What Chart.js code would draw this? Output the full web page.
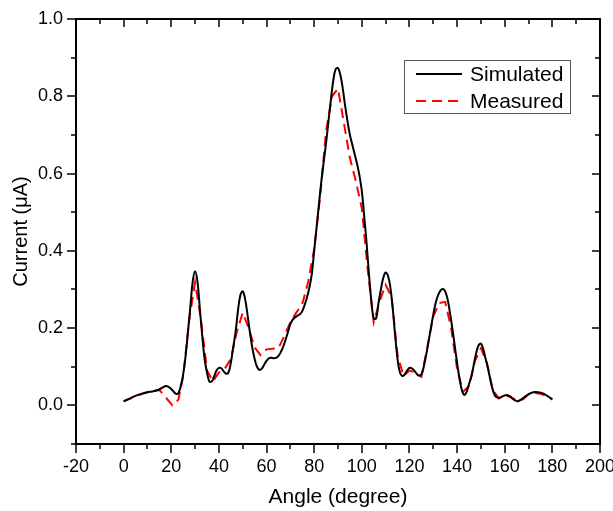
<!DOCTYPE html>
<html>
<head>
<meta charset="utf-8">
<script src="https://cdn.jsdelivr.net/npm/chart.js@4.4.0/dist/chart.umd.min.js"></script>
<style>
  html, body { margin: 0; padding: 0; background: #fff; }
  #wrap { width: 613px; height: 511px; }
</style>
</head>
<body>
<div id="wrap"><canvas id="chart" width="613" height="511"></canvas></div>
<script>
// Simulated curve (black, solid)
const simAngle = [0, 2, 4, 6, 8, 10, 12, 14, 16, 18, 20, 22, 23, 24, 25, 26, 27, 28, 29, 30,
  31, 32, 33, 34, 35, 36, 37, 38, 39, 40, 41, 42, 43, 44, 45, 46, 47, 48, 49, 50,
  51, 52, 53, 54, 55, 56, 57, 58, 59, 60, 61, 62, 63, 64, 65, 66, 67, 68, 69, 70,
  71, 72, 73, 74, 75, 76, 77, 78, 79, 80, 81, 82, 83, 84, 85, 86, 87, 88, 89, 90,
  91, 92, 93, 94, 95, 96, 97, 98, 99, 100, 101, 102, 103, 104, 105, 106, 107, 108, 109, 110,
  111, 112, 113, 114, 115, 116, 117, 118, 119, 120, 121, 122, 123, 124, 125, 126, 127, 128, 129, 130,
  131, 132, 133, 134, 135, 136, 137, 138, 139, 140, 141, 142, 143, 144, 145, 146, 147, 148, 149, 150,
  151, 152, 153, 154, 155, 156, 157, 158, 160, 161, 162, 164, 165, 166, 168, 170, 172, 174, 176, 178, 180];
const simCurrent = [0.011, 0.016, 0.022, 0.027, 0.031, 0.034, 0.036, 0.039, 0.045, 0.050, 0.042, 0.030, 0.032, 0.050, 0.080, 0.127, 0.190, 0.255, 0.320, 0.347,
  0.320, 0.250, 0.180, 0.120, 0.085, 0.062, 0.062, 0.075, 0.090, 0.097, 0.096, 0.088, 0.082, 0.085, 0.110, 0.150, 0.190, 0.245, 0.285, 0.295,
  0.275, 0.235, 0.190, 0.150, 0.120, 0.100, 0.092, 0.095, 0.105, 0.115, 0.122, 0.123, 0.122, 0.123, 0.128, 0.138, 0.152, 0.170, 0.190, 0.210,
  0.222, 0.228, 0.232, 0.236, 0.244, 0.260, 0.280, 0.305, 0.340, 0.400, 0.460, 0.520, 0.580, 0.630, 0.680, 0.735, 0.790, 0.840, 0.870, 0.873,
  0.855, 0.820, 0.775, 0.735, 0.700, 0.675, 0.650, 0.625, 0.595, 0.555, 0.490, 0.420, 0.340, 0.270, 0.225, 0.225, 0.265, 0.300, 0.330, 0.344,
  0.335, 0.305, 0.250, 0.180, 0.120, 0.085, 0.076, 0.080, 0.090, 0.097, 0.096, 0.090, 0.082, 0.077, 0.080, 0.100, 0.130, 0.165, 0.200, 0.235,
  0.265, 0.285, 0.297, 0.301, 0.295, 0.275, 0.240, 0.200, 0.155, 0.110, 0.070, 0.040, 0.027, 0.035, 0.055, 0.075, 0.105, 0.135, 0.155, 0.160,
  0.145, 0.120, 0.095, 0.065, 0.040, 0.024, 0.020, 0.020, 0.026, 0.027, 0.024, 0.014, 0.011, 0.012, 0.020, 0.029, 0.034, 0.034, 0.031, 0.024, 0.016];

// Measured curve (red, dashed)
const measAngle = [0, 5, 10, 15, 20.5, 23, 25, 27.5, 30, 32.5, 35, 37.5, 40, 42.5, 45, 47.5, 50, 52.5, 55, 57.5,
  60, 65, 67.5, 70, 72.5, 75, 77.5, 80, 82.5, 85, 87.5, 90, 92.5, 95, 97.5, 100, 102.5, 105, 107.5, 110,
  112.5, 115, 117.5, 120, 122.5, 125, 127.5, 130, 132.5, 135, 137.5, 140, 142.5, 145, 147.5, 150, 152.5, 155, 157.5, 160,
  162.5, 165, 167.5, 170, 172.5, 175, 177.5, 180];
const measCurrent = [0.010, 0.024, 0.034, 0.040, 0.000, 0.015, 0.075, 0.220, 0.318, 0.220, 0.090, 0.062, 0.085, 0.095, 0.120, 0.190, 0.240, 0.200, 0.150, 0.130,
  0.145, 0.148, 0.180, 0.215, 0.240, 0.262, 0.320, 0.405, 0.540, 0.710, 0.800, 0.820, 0.730, 0.640, 0.580, 0.510, 0.350, 0.215, 0.270, 0.312,
  0.280, 0.130, 0.076, 0.090, 0.085, 0.074, 0.150, 0.230, 0.265, 0.268, 0.200, 0.095, 0.035, 0.050, 0.115, 0.148, 0.110, 0.040, 0.018, 0.025,
  0.022, 0.012, 0.015, 0.028, 0.032, 0.030, 0.025, 0.015];

const xTicks = [-20, 0, 20, 40, 60, 80, 100, 120, 140, 160, 180, 200];
const yTicks = [0.0, 0.2, 0.4, 0.6, 0.8, 1.0];

const FONT = 'Liberation Sans, Arial, sans-serif';

// minor ticks sit halfway between the majors (and below the first y major)
const xMinor = xTicks.slice(1).map((v, i) => (v + xTicks[i]) / 2);
const yMinor = [-0.1].concat(yTicks.slice(1).map((v, i) => (v + yTicks[i]) / 2));

const frame = {
  id: 'frame',
  afterDatasetsDraw(chart) {
    const { ctx, chartArea: a, scales: { x, y } } = chart;
    ctx.save();
    ctx.strokeStyle = '#000';
    const line = (x1, y1, x2, y2) => { ctx.beginPath(); ctx.moveTo(x1, y1); ctx.lineTo(x2, y2); ctx.stroke(); };
    ctx.lineWidth = 1.5;
    xTicks.forEach(v => {
      const p = Math.round(x.getPixelForValue(v));
      line(p, a.bottom, p, a.bottom + 9);
      line(p, a.top, p, a.top + 8);
    });
    xMinor.forEach(v => {
      const p = Math.round(x.getPixelForValue(v));
      line(p, a.bottom, p, a.bottom + 5);
      line(p, a.top, p, a.top + 5);
    });
    yTicks.forEach(v => {
      const p = Math.round(y.getPixelForValue(v));
      line(a.left, p, a.left - 9, p);
      line(a.right, p, a.right - 8, p);
    });
    yMinor.forEach(v => {
      const p = Math.round(y.getPixelForValue(v));
      line(a.left, p, a.left - 5, p);
      line(a.right, p, a.right - 5, p);
    });
    ctx.lineWidth = 2;
    ctx.strokeRect(a.left, a.top, a.right - a.left, a.bottom - a.top);

    // legend box
    const bx = 404, by = 60, bw = 166, bh = 53;
    ctx.fillStyle = '#fff';
    ctx.fillRect(bx, by, bw, bh);
    ctx.lineWidth = 1;
    ctx.strokeStyle = '#555';
    ctx.strokeRect(bx + 0.5, by + 0.5, bw, bh);
    ctx.font = '21px ' + FONT;
    ctx.textBaseline = 'middle';
    ctx.textAlign = 'left';
    chart.data.datasets.forEach((ds, i) => {
      const ly = by + 14 + i * 27;
      ctx.strokeStyle = ds.borderColor;
      ctx.lineWidth = ds.borderWidth;
      ctx.setLineDash(ds.borderDash || []);
      line(416, ly, 462, ly);
      ctx.setLineDash([]);
      ctx.fillStyle = '#000';
      ctx.fillText(ds.label, 470, ly + 1);
    });
    ctx.restore();
  }
};

new Chart(document.getElementById('chart'), {
  type: 'line',
  data: {
    datasets: [
      {
        label: 'Simulated',
        data: simAngle.map((a, i) => ({ x: a, y: simCurrent[i] })),
        borderColor: '#000000',
        borderWidth: 2,
        pointRadius: 0,
        tension: 0.4,
        fill: false
      },
      {
        label: 'Measured',
        data: measAngle.map((a, i) => ({ x: a, y: measCurrent[i] })),
        borderColor: '#ff0000',
        borderWidth: 2,
        borderDash: [10, 6],
        pointRadius: 0,
        tension: 0,
        fill: false
      }
    ]
  },
  options: {
    responsive: false,
    animation: false,
    layout: { padding: { left: 0, top: 19, right: 13, bottom: 0 } },
    plugins: { legend: { display: false }, tooltip: { enabled: false } },
    scales: {
      x: {
        type: 'linear',
        min: -20,
        max: 200,
        grid: { display: false, drawTicks: false },
        border: { display: false },
        afterBuildTicks: s => { s.ticks = xTicks.map(v => ({ value: v })); },
        afterFit: s => { s.height = 67; s.paddingLeft = 0; s.paddingRight = 0; },
        ticks: { color: '#000', padding: 12, maxRotation: 0, autoSkip: false, font: { family: FONT, size: 18 },
          callback: v => String(v) },
        title: { display: true, text: 'Angle (degree)', color: '#000', padding: { top: 0, bottom: 1 },
          font: { family: FONT, size: 21 } }
      },
      y: {
        type: 'linear',
        min: -0.1,
        max: 1.0,
        grid: { display: false, drawTicks: false },
        border: { display: false },
        afterBuildTicks: s => { s.ticks = yTicks.map(v => ({ value: v })); },
        afterFit: s => { s.width = 76; s.paddingTop = 0; s.paddingBottom = 0; },
        ticks: { color: '#000', padding: 13, font: { family: FONT, size: 18 },
          callback: v => v.toFixed(1) },
        title: { display: true, text: 'Current (μA)', color: '#000', padding: { top: 9, bottom: 0 },
          font: { family: FONT, size: 20 } }
      }
    }
  },
  plugins: [frame]
});
</script>
</body>
</html>
